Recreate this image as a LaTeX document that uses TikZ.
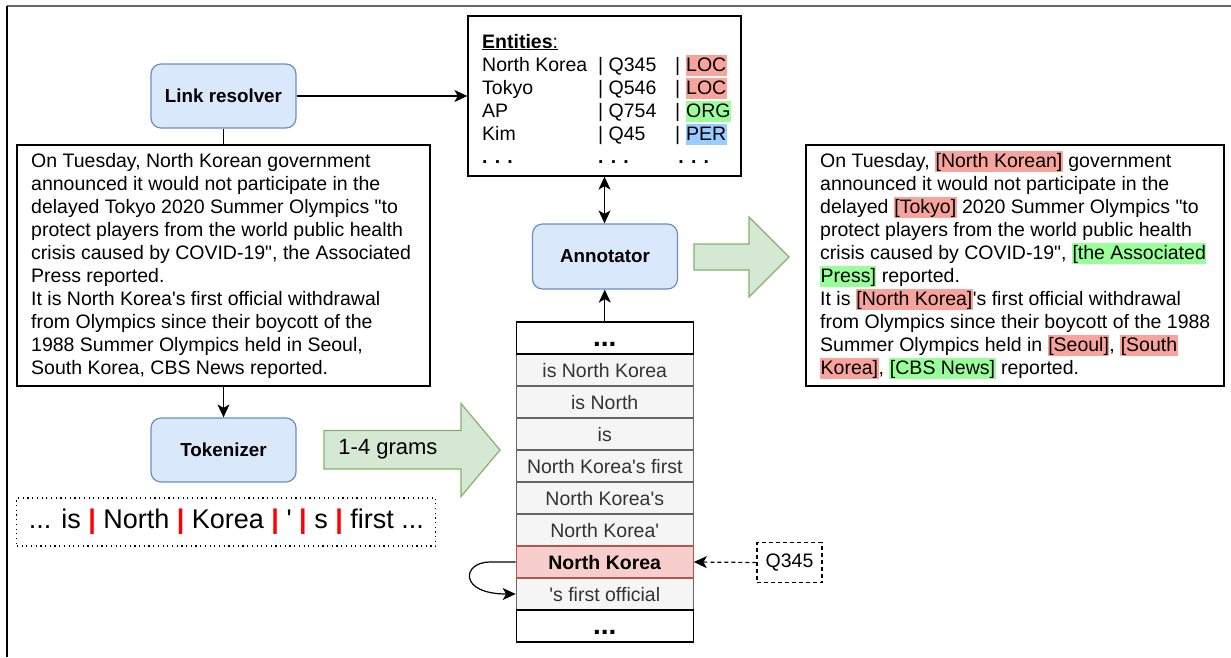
\documentclass[tikz,border=0pt]{standalone}
\usepackage{fontspec}
\newfontfamily\lsans{Liberation Sans}
\usetikzlibrary{arrows.meta}
\definecolor{blueF}{HTML}{DAE8FC}
\definecolor{blueD}{HTML}{6C8EBF}
\definecolor{greenF}{HTML}{D5E8D4}
\definecolor{greenD}{HTML}{82B366}
\definecolor{grayF}{HTML}{F5F5F5}
\definecolor{grayD}{HTML}{666666}
\definecolor{grayT}{HTML}{333333}
\definecolor{redF}{HTML}{F8CECC}
\definecolor{redD}{HTML}{B85450}
\definecolor{hlred}{HTML}{F8A49C}
\definecolor{hlgreen}{HTML}{99FF99}
\definecolor{hlblue}{HTML}{99CCFF}
\newcommand\hlbox[2]{{\setlength\fboxsep{0pt}\colorbox{#1}{\kern0.5pt\rule[-5pt]{0pt}{21pt}#2\kern0.5pt}}}
\newcommand\hlr[1]{\hlbox{hlred}{#1}}
\newcommand\hlg[1]{\hlbox{hlgreen}{#1}}
\newcommand\hlb[1]{\hlbox{hlblue}{#1}}
\newcommand\rbar{{\color{red}\textbf{|}}}
\newcommand\bigdots{\raisebox{-4pt}{\fontsize{28}{23}\selectfont\bfseries ...}}
\newcommand\celltext[1]{\strut\raisebox{-2.5pt}{#1}}
\tikzset{
  proc/.style={draw=blueD, fill=blueF, line width=1.2pt, rounded corners=10pt,
    minimum width=145pt, minimum height=64pt, font=\lsans\bfseries\fontsize{18.8}{22}\selectfont},
  box/.style={draw=black, line width=1.3pt, inner sep=0pt},
  txt/.style={anchor=west, align=left, inner sep=0pt},
  cell/.style={draw=grayD, fill=grayF, text=grayT, line width=1.2pt,
    minimum width=177pt, minimum height=32pt, inner sep=0pt},
  endcell/.style={draw=black, fill=white, line width=1.5pt,
    minimum width=177pt, minimum height=32pt, inner sep=0pt},
  hitcell/.style={draw=redD, fill=redF, text=black, line width=1.2pt,
    minimum width=177pt, minimum height=32pt, inner sep=0pt, font=\lsans\bfseries\fontsize{19.5}{23}\selectfont},
  arr/.style={line width=1.2pt, -{Stealth[length=13pt,width=12pt,inset=3.5pt]}},
  arrboth/.style={line width=1.2pt, {Stealth[length=13pt,width=12pt,inset=3.5pt]}-{Stealth[length=13pt,width=12pt,inset=3.5pt]}},
  garrow/.style={draw=greenD, fill=greenF, line width=1.2pt, line join=miter},
}
\begin{document}
\begin{tikzpicture}[x=1pt,y=-1pt, every node/.style={font=\lsans\fontsize{19.5}{23}\selectfont}]
\useasboundingbox (0,0) rectangle (1231,657);
% frame
\draw[draw=grayD, line width=1.5pt] (7,6) -- (1231,6);
\draw[draw=black, line width=1.3pt] (7,6) -- (7,657);

% process boxes
\node[proc] (lr) at (223.5,96) {Link resolver};
\node[proc] (tok) at (223.5,450) {Tokenizer};
\node[proc, minimum height=65pt] (ann) at (605,256.5) {Annotator};

% source text
\node[box, minimum width=413pt, minimum height=241pt] (src) at (223.5,265.5) {};
\node[txt] (srct) at (31,266) {\strut On Tuesday, North Korean government\\
announced it would not participate in the\\
delayed Tokyo 2020 Summer Olympics "to\\
protect players from the world public health\\
crisis caused by COVID-19", the Associated\\
Press reported.\\
It is North Korea's first official withdrawal\\
from Olympics since their boycott of the\\
1988 Summer Olympics held in Seoul,\\
South Korea, CBS News reported.\strut};

% annotated text
\node[box, minimum width=418pt, minimum height=241pt] (out) at (1015,265.5) {};
\node[txt] (outt) at (820,266) {\strut On Tuesday, \hlr{[North Korean]} government\\
announced it would not participate in the\\
delayed \hlr{[Tokyo]} 2020 Summer Olympics "to\\
protect players from the world public health\\
crisis caused by COVID-19", \hlg{[the Associated}\\
\hlg{Press]} reported.\\
It is \hlr{[North Korea]}'s first official withdrawal\\
from Olympics since their boycott of the 1988\\
Summer Olympics held in \hlr{[Seoul]}, \hlr{[South}\\
\hlr{Korea]}, \hlg{[CBS News]} reported.\strut};

% entities
\node[box, minimum width=273pt, minimum height=160pt] (ent) at (604.5,96) {};
\node[anchor=base west, inner sep=0pt] (entt) at (482,48) {\begin{tabular}[t]{@{}p{116pt}@{}p{77pt}@{}l@{}}
\multicolumn{3}{@{}l@{}}{\underline{\textbf{Entities}:}}\\
North Korea & | Q345 & | \hlr{LOC}\\
Tokyo & | Q546 & | \hlr{LOC}\\
AP & | Q754 & | \hlg{ORG}\\
Kim & | Q45 & | \hlb{PER}\\
\textbf{. . .} & \textbf{. . .} & \,\textbf{. . .}
\end{tabular}};

% stack of n-grams
\node[cell] (c1) at (604.75,370) {\celltext{is North Korea}};
\node[cell] (c2) at (604.75,402) {\celltext{is North}};
\node[cell] (c3) at (604.75,434) {\celltext{is}};
\node[cell] (c4) at (604.75,466) {\celltext{North Korea's first}};
\node[cell] (c5) at (604.75,498) {\celltext{North Korea's}};
\node[cell] (c6) at (604.75,530) {\celltext{North Korea'}};
\node[cell] (c8) at (604.75,594) {\celltext{'s first official}};
\node[hitcell] (nk) at (604.75,562) {\celltext{North Korea}};
\node[endcell] (top) at (604.75,338) {\strut\bigdots};
\node[endcell] (bot) at (604.75,626) {\strut\bigdots};

% tokens
\node[draw=black, line width=1.2pt, dash pattern=on 1.2pt off 3.5pt, minimum width=419pt, minimum height=48pt, inner sep=0pt,
  font=\lsans\fontsize{27}{30}\selectfont] (toks) at (226.3,522) {... is \rbar{} North \rbar{} Korea \rbar{} ' \rbar{} s \rbar{} first ...};

% Q345
\node[draw=black, line width=1.2pt, dash pattern=on 4pt off 3pt, minimum width=65pt, minimum height=40pt] (q) at (789.5,562.5) {Q345};

% block arrows
\draw[garrow] (324,430.5) -- (461,430.5) -- (461,403.5) -- (500,450) -- (461,496.5) -- (461,469) -- (324,469) -- cycle;
\node[font=\lsans\fontsize{22}{26}\selectfont] (gl) at (388,449) {1-4 grams};
\draw[garrow] (694,244) -- (749,244) -- (749,217) -- (789,257) -- (749,297) -- (749,270) -- (694,270) -- cycle;

% connectors
\draw[line width=1.2pt] (lr.south) -- (src.north);
\draw[arr] (lr.east) -- (ent.west);
\draw[arr] (src.south) -- (tok.north);
\draw[arrboth] (ent.south) -- (ent.south |- ann.north);
\draw[arr] (top.north) -- (top.north |- ann.south);
\draw[arr, dash pattern=on 4pt off 3pt] (q.west) -- (nk.east);
\draw[arr] (nk.west) -- (490,562) .. controls (462,562) and (458,594) .. (c8.west);
\end{tikzpicture}
\end{document}
